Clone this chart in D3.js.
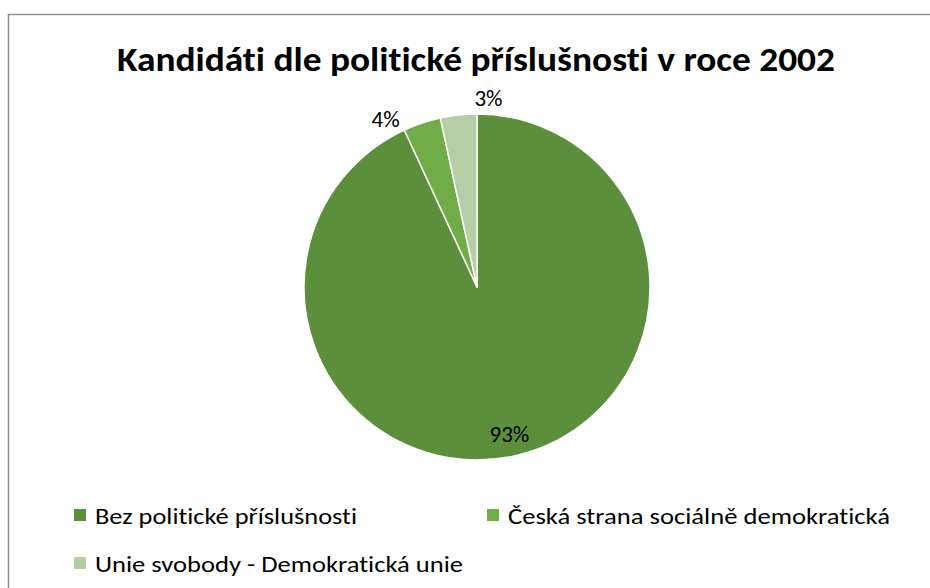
<!DOCTYPE html>
<html>
<head>
<meta charset="utf-8">
<script src="https://cdn.jsdelivr.net/npm/d3@7/dist/d3.min.js"></script>
<style>
  html, body { margin: 0; padding: 0; background: #fff; }
  svg { display: block; }
  text { font-family: Carlito, Calibri, "Liberation Sans", "Open Sans", sans-serif; font-variant-ligatures: none; font-feature-settings: "liga" 0, "clig" 0; }
</style>
</head>
<body>
<svg id="chart" width="930" height="588"></svg>
<script>
const title = "Kandidáti dle politické příslušnosti v roce 2002";
const categories = ["Bez politické příslušnosti", "Česká strana sociálně demokratická", "Unie svobody - Demokratická unie"];
const values = [93.1, 3.5, 3.4];
const colors = ["#5b8f3b", "#70ad47", "#b5cea5"];

const W = 930, H = 588;
const svg = d3.select("#chart");

// chart border
svg.append("rect")
  .attr("x", 8.5).attr("y", 14.5)
  .attr("width", W + 20).attr("height", H + 20)
  .attr("fill", "#fff").attr("stroke", "#8f8f8f").attr("stroke-width", 1.5);

// title
svg.append("text")
  .attr("x", 476).attr("y", 71)
  .attr("text-anchor", "middle")
  .attr("font-size", 35).attr("font-weight", "bold").attr("fill", "#000")
  .attr("textLength", 718).attr("lengthAdjust", "spacingAndGlyphs")
  .text(title);

const cx = 477, cy = 287, R = 173;
const g = svg.append("g").attr("transform", `translate(${cx},${cy})`);

const data = categories.map((c, i) => ({ name: c, value: values[i], color: colors[i] }));
const pie = d3.pie().value(d => d.value).sort(null);
const arcs = pie(data);
const arc = d3.arc().innerRadius(0).outerRadius(R);

g.selectAll("path.slice").data(arcs).enter().append("path")
  .attr("class", "slice")
  .attr("d", arc)
  .attr("fill", d => d.data.color)
  .attr("stroke", "#fff").attr("stroke-width", 1.5).attr("stroke-linejoin", "round");

const total = d3.sum(values);
const fmt = v => Math.round(v / total * 100) + "%";

// labels: inside for large slice, outside (best fit) for small slices
const labelOffsets = [[0, 0], [-30, 15], [32, 3]];
g.selectAll("text.lbl").data(arcs).enter().append("text")
  .attr("class", "lbl")
  .attr("text-anchor", "middle")
  .attr("dominant-baseline", "central")
  .attr("font-size", 23).attr("fill", "#000")
  .attr("transform", (d, i) => {
    const a = (d.startAngle + d.endAngle) / 2;
    const r = (d.endAngle - d.startAngle) > 1 ? R * 0.87 : R + 20;
    const x = Math.sin(a) * r + labelOffsets[i][0];
    const y = -Math.cos(a) * r + labelOffsets[i][1];
    return `translate(${x},${y})`;
  })
  .text(d => fmt(d.value));

// legend
const legendPos = [[74, 515], [487, 515], [74, 563]];
const legendLen = [262, 382, 368];
const lg = svg.selectAll("g.leg").data(data).enter().append("g")
  .attr("class", "leg")
  .attr("transform", (d, i) => `translate(${legendPos[i][0]},${legendPos[i][1]})`);
lg.append("rect").attr("x", 0).attr("y", -6).attr("width", 12).attr("height", 12)
  .attr("fill", d => d.color);
lg.append("text").attr("x", 21).attr("y", 1)
  .attr("dominant-baseline", "central")
  .attr("font-size", 23).attr("fill", "#000")
  .attr("textLength", (d, i) => legendLen[i]).attr("lengthAdjust", "spacingAndGlyphs")
  .text(d => d.name);
</script>
</body>
</html>
